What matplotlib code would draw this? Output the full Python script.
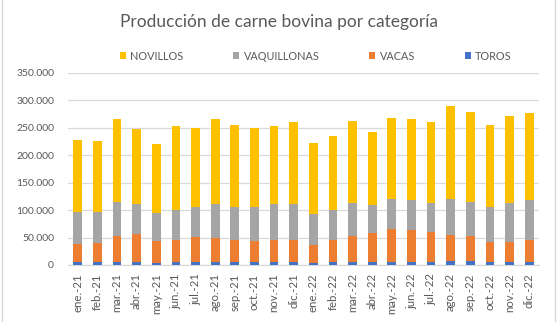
import matplotlib
matplotlib.use("Agg")
import matplotlib.pyplot as plt
from matplotlib.patches import Rectangle, Patch
from matplotlib.ticker import FuncFormatter, MultipleLocator
import numpy as np

# Monthly beef production by category (stacked, bottom to top: TOROS, VACAS, VAQUILLONAS, NOVILLOS)
months = ["ene.-21", "feb.-21", "mar.-21", "abr.-21", "may.-21", "jun.-21",
          "jul.-21", "ago.-21", "sep.-21", "oct.-21", "nov.-21", "dic.-21",
          "ene.-22", "feb.-22", "mar.-22", "abr.-22", "may.-22", "jun.-22",
          "jul.-22", "ago.-22", "sep.-22", "oct.-22", "nov.-22", "dic.-22"]

toros = [4800, 5300, 4800, 4800, 3000, 4800, 4800, 5000, 4800, 4800, 4800, 4800,
         3000, 4800, 4800, 4800, 4800, 4800, 4800, 6700, 6700, 4800, 4800, 4800]
vacas = [32800, 34100, 47200, 51000, 41000, 41200, 46200, 44700, 40700, 38800, 40000, 40700,
         32800, 41200, 48500, 52800, 61200, 58200, 54600, 47300, 45300, 36200, 36200, 41200]
vaquillonas = [58100, 57000, 62500, 55200, 51000, 54000, 55000, 61300, 60500, 62400, 66200, 66000,
               57500, 54600, 59400, 50900, 54600, 55800, 53300, 66000, 62500, 65000, 71700, 72000]
novillos = [131300, 129600, 150500, 136000, 125600, 152700, 144000, 155600, 149700, 143700, 141700, 149500,
            128700, 133400, 149700, 133900, 147300, 146600, 147900, 169000, 163500, 149000, 159300, 159000]

series = [("TOROS", toros, "#4472C4"),
          ("VACAS", vacas, "#ED7D31"),
          ("VAQUILLONAS", vaquillonas, "#A5A5A5"),
          ("NOVILLOS", novillos, "#FFC000")]

plt.rcParams["font.family"] = ["Lato", "DejaVu Sans"]
text_color = "#595959"
grid_color = "#D9D9D9"

W, H = 558, 322
fig = plt.figure(figsize=(W / 100, H / 100), dpi=100)
fig.patch.set_facecolor("white")

# chart area border
fig.add_artist(Rectangle((1.5 / W, -0.05), (555 - 1.5) / W, 1.1, transform=fig.transFigure,
                         fill=False, edgecolor=grid_color, linewidth=1))

ax = fig.add_axes([68 / W, (H - 265) / H, (539 - 68) / W, (265 - 72.7) / H])

x = np.arange(len(months))
bottom = np.zeros(len(months))
for name, vals, color in series:
    ax.bar(x, vals, width=0.44, bottom=bottom, color=color, label=name, zorder=3)
    bottom += np.array(vals)

ax.set_xlim(-0.5, len(months) - 0.5)
ax.set_ylim(0, 350000)
ax.yaxis.set_major_locator(MultipleLocator(50000))
ax.yaxis.set_major_formatter(FuncFormatter(lambda v, p: f"{int(v):,}".replace(",", ".")))
ax.grid(axis="y", color=grid_color, linewidth=0.9, zorder=0)
ax.set_axisbelow(True)

for s in ["top", "right", "left"]:
    ax.spines[s].set_visible(False)
ax.spines["bottom"].set_color(grid_color)
ax.spines["bottom"].set_linewidth(0.9)

ax.set_xticks(x)
ax.set_xticklabels(months, rotation=90, fontsize=8.2, color=text_color)
ax.tick_params(axis="x", length=0, pad=6)
ax.tick_params(axis="y", length=0, pad=10, labelsize=7.5, labelcolor=text_color)

fig.text(278.5 / W, 1 - 22.5 / H, "Producción de carne bovina por categoría",
         ha="center", va="center", fontsize=12.5, color=text_color)

handles = [Patch(facecolor=c, edgecolor="none") for _, _, c in series[::-1]]
labels = [n for n, _, _ in series[::-1]]
fig.legend(handles, labels, loc="center", bbox_to_anchor=(316 / W, 1 - 56 / H),
           ncol=4, frameon=False, fontsize=7.8, labelcolor=text_color,
           handlelength=0.55, handleheight=0.55, handletextpad=0.4, columnspacing=4.6)

fig.savefig("out.png", dpi=100)
